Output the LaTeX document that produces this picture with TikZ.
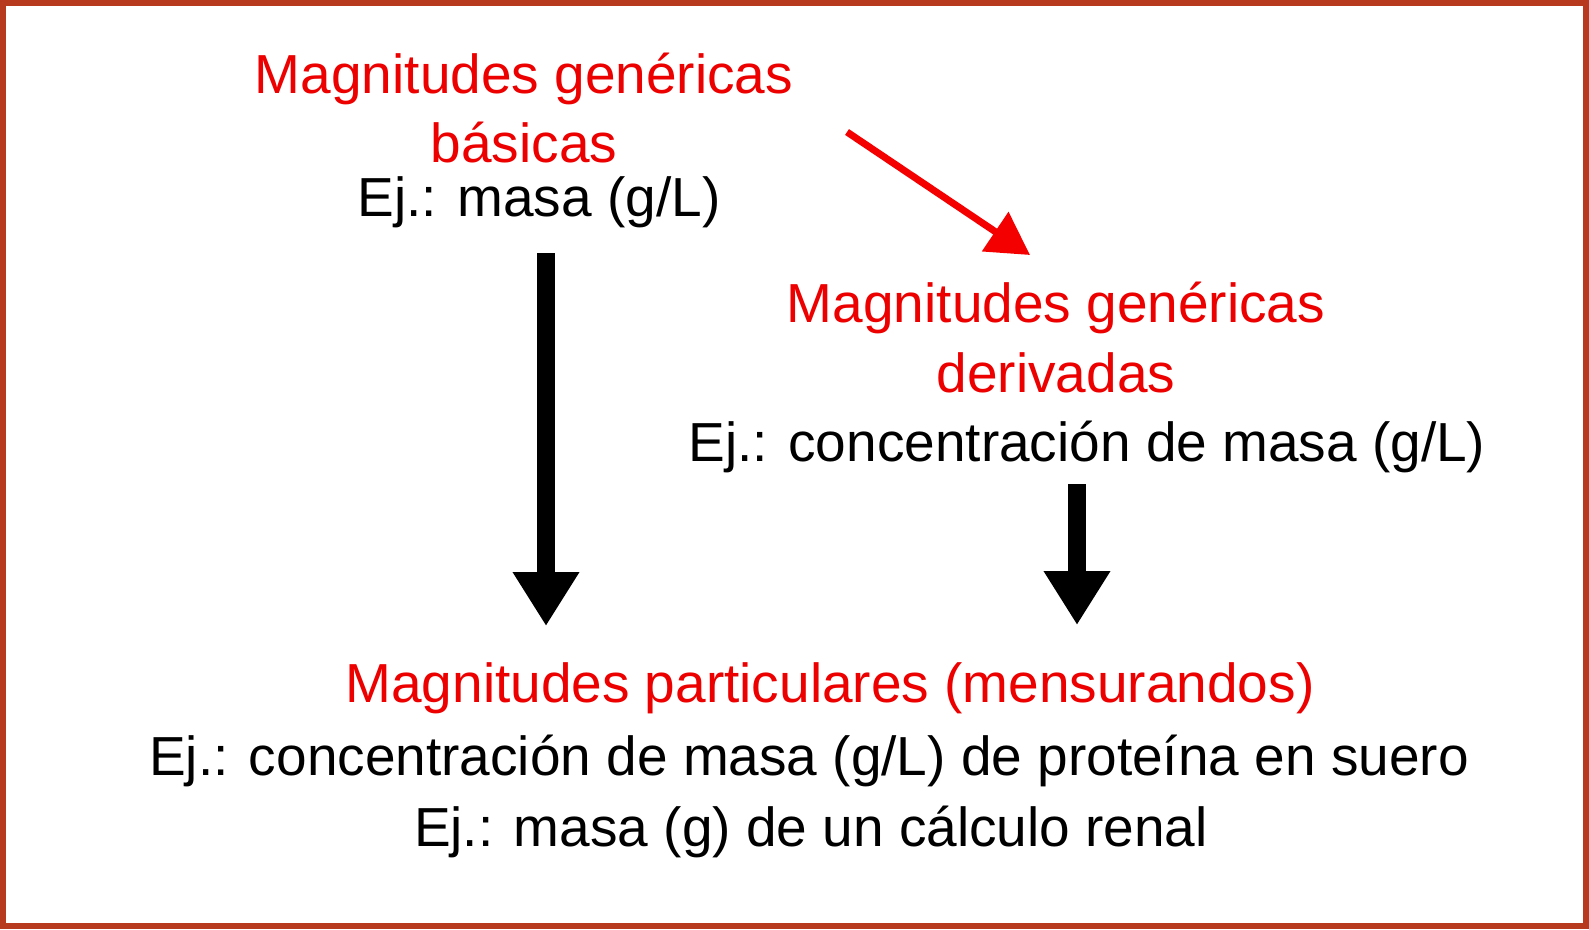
\documentclass[tikz,border=0pt]{standalone}
\usepackage{fontspec}
\setmainfont{Liberation Sans}
\usetikzlibrary{arrows.meta}
\definecolor{framecol}{RGB}{183,58,30}
\definecolor{titlered}{RGB}{236,0,0}
\definecolor{arrowred}{RGB}{245,0,0}
\begin{document}
\begin{tikzpicture}[x=1pt,y=-1pt,
  txt/.style={inner sep=0pt, anchor=base, font=\fontsize{55}{66}\selectfont},
  redtxt/.style={txt, text=titlered},
  blacktxt/.style={txt, text=black},
  bigarrow/.style={draw=black, line width=18pt, -{Triangle[length=54pt,width=63pt]}},
  redarrow/.style={draw=arrowred, color=arrowred, line width=7pt, -{Triangle[length=42pt,width=46pt]}}]
\useasboundingbox (0,0) rectangle (1589,929);
\fill[white] (0,0) rectangle (1589,929);
\draw[framecol, line width=6pt] (3,3) rectangle (1586,926);
\node[redtxt] (basA) at (524,93) {Magnitudes genéricas};
\node[redtxt] (basB) at (524,162) {básicas};
\node[blacktxt] (basEj) at (539,216) {Ej.: masa (g/L)};
\node[redtxt] (derA) at (1056,322) {Magnitudes genéricas};
\node[redtxt] (derB) at (1056,392) {derivadas};
\node[blacktxt] (derEj) at (1087,461) {Ej.: concentración de masa (g/L)};
\node[redtxt] (par) at (830,702) {Magnitudes particulares (mensurandos)};
\node[blacktxt] (parEj1) at (809,775) {Ej.: concentración de masa (g/L) de proteína en suero};
\node[blacktxt] (parEj2) at (811,846) {Ej.: masa (g) de un cálculo renal};
\coordinate (rs) at (847,132);
\coordinate (re) at (1030,255);
\coordinate (ls) at (546,253);
\coordinate (le) at (546,626);
\coordinate (rrs) at (1077,484);
\coordinate (rre) at (1077,625);
\draw[redarrow] (rs) -- (re);
\draw[bigarrow] (ls) -- (le);
\draw[bigarrow] (rrs) -- (rre);
\end{tikzpicture}
\end{document}
